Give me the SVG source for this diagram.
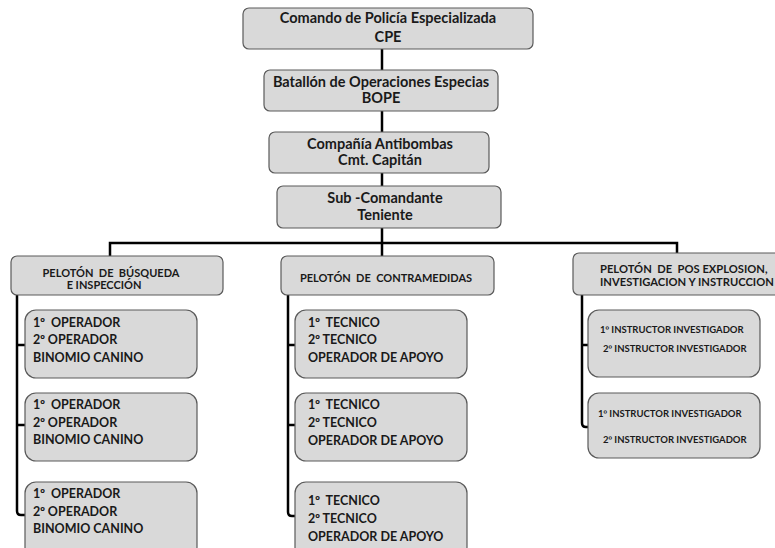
<svg xmlns="http://www.w3.org/2000/svg" width="775" height="548" viewBox="0 0 775 548" xml:space="preserve">
<style>
.box{fill:#d9d9d9;stroke:#5a5a5a;stroke-width:1.2}
.ln{fill:none;stroke:#000;stroke-width:2.5}
text{font-family:Lato,"Liberation Sans",sans-serif;font-weight:bold;fill:#1a1a1a;white-space:pre}
.o{font-family:"Liberation Sans",sans-serif}
.t1{font-size:14.5px;text-anchor:middle}
.t2{font-size:11px;text-anchor:middle}
.t2s{font-size:11.2px}
.t3{font-size:12.5px}
.t4{font-size:9.5px}
</style>
<rect width="775" height="548" fill="#fff"/>
<g id="connectors">
<path class="ln" d="M382 48V243"/>
<path class="ln" d="M110 256V243H677V253"/>
<path class="ln" d="M382 243V256"/>
<path class="ln" d="M17 295V511Q17 515 21 515H25M17 345H25M17 425H25"/>
<path class="ln" d="M288 295V512Q288 516 292 516H295M288 345H295M288 425H295"/>
<path class="ln" d="M582 295V423Q582 427 586 427H588M582 345H588"/>
</g>
<g id="n-cpe"><rect class="box" x="243" y="8" width="290" height="41" rx="6"/>
<text class="t1" x="388" y="23">Comando de Policía Especializada</text><text class="t1" x="388" y="42">CPE</text></g>
<g id="n-bope"><rect class="box" x="264" y="70" width="234" height="41" rx="6"/>
<text class="t1" x="381" y="87">Batallón de Operaciones Especias</text><text class="t1" x="381" y="103">BOPE</text></g>
<g id="n-cia"><rect class="box" x="269" y="132" width="220" height="41" rx="6"/>
<text class="t1" x="380" y="149">Compañía Antibombas</text><text class="t1" x="380" y="165">Cmt. Capitán</text></g>
<g id="n-sub"><rect class="box" x="277" y="186" width="224" height="42" rx="6"/>
<text class="t1" x="385" y="203">Sub -Comandante</text><text class="t1" x="385" y="220">Teniente</text></g>
<g id="n-p1"><rect class="box" x="11" y="256" width="212" height="39" rx="6"/>
<text class="t2" x="111" y="277">PELOTÓN  DE  BÚSQUEDA</text><text class="t2" x="104" y="289">E INSPECCIÓN</text></g>
<g id="n-p2"><rect class="box" x="281" y="256" width="213" height="39" rx="6"/>
<text class="t2" x="386" y="282">PELOTÓN  DE  CONTRAMEDIDAS</text></g>
<g id="n-p3"><rect class="box" x="573" y="253" width="212" height="42" rx="6"/>
<text class="t2s" x="600" y="273">PELOTÓN  DE  POS EXPLOSION,</text><text class="t2s" x="600" y="286">INVESTIGACION Y INSTRUCCION</text></g>
<g id="n-a1"><rect class="box" x="25" y="310" width="172" height="68" rx="11"/>
<text class="t3" x="33" y="327">1<tspan class="o">º</tspan>  OPERADOR</text><text class="t3" x="33" y="344">2<tspan class="o">º</tspan> OPERADOR</text><text class="t3" x="33" y="362">BINOMIO CANINO</text></g>
<g id="n-a2"><rect class="box" x="25" y="393" width="172" height="68" rx="11"/>
<text class="t3" x="33" y="409">1<tspan class="o">º</tspan>  OPERADOR</text><text class="t3" x="33" y="427">2<tspan class="o">º</tspan> OPERADOR</text><text class="t3" x="33" y="444">BINOMIO CANINO</text></g>
<g id="n-a3"><rect class="box" x="25" y="482" width="172" height="76" rx="11"/>
<text class="t3" x="33" y="498">1<tspan class="o">º</tspan>  OPERADOR</text><text class="t3" x="33" y="516">2<tspan class="o">º</tspan> OPERADOR</text><text class="t3" x="33" y="533">BINOMIO CANINO</text></g>
<g id="n-b1"><rect class="box" x="295" y="310" width="172" height="68" rx="11"/>
<text class="t3" x="308" y="327">1<tspan class="o">º</tspan>  TECNICO</text><text class="t3" x="308" y="344">2<tspan class="o">º</tspan> TECNICO</text><text class="t3" x="308" y="362">OPERADOR DE APOYO</text></g>
<g id="n-b2"><rect class="box" x="295" y="393" width="172" height="68" rx="11"/>
<text class="t3" x="308" y="409">1<tspan class="o">º</tspan>  TECNICO</text><text class="t3" x="308" y="427">2<tspan class="o">º</tspan> TECNICO</text><text class="t3" x="308" y="445">OPERADOR DE APOYO</text></g>
<g id="n-b3"><rect class="box" x="295" y="482" width="172" height="76" rx="11"/>
<text class="t3" x="308" y="505">1<tspan class="o">º</tspan>  TECNICO</text><text class="t3" x="308" y="523">2<tspan class="o">º</tspan> TECNICO</text><text class="t3" x="308" y="541">OPERADOR DE APOYO</text></g>
<g id="n-c1"><rect class="box" x="588" y="310" width="172" height="67" rx="11"/>
<text class="t4" x="600" y="333">1<tspan class="o">º</tspan> INSTRUCTOR INVESTIGADOR</text><text class="t4" x="603" y="352">2<tspan class="o">º</tspan> INSTRUCTOR INVESTIGADOR</text></g>
<g id="n-c2"><rect class="box" x="588" y="393" width="172" height="65" rx="11"/>
<text class="t4" x="598" y="417">1<tspan class="o">º</tspan> INSTRUCTOR INVESTIGADOR</text><text class="t4" x="603" y="443">2<tspan class="o">º</tspan> INSTRUCTOR INVESTIGADOR</text></g>
</svg>
